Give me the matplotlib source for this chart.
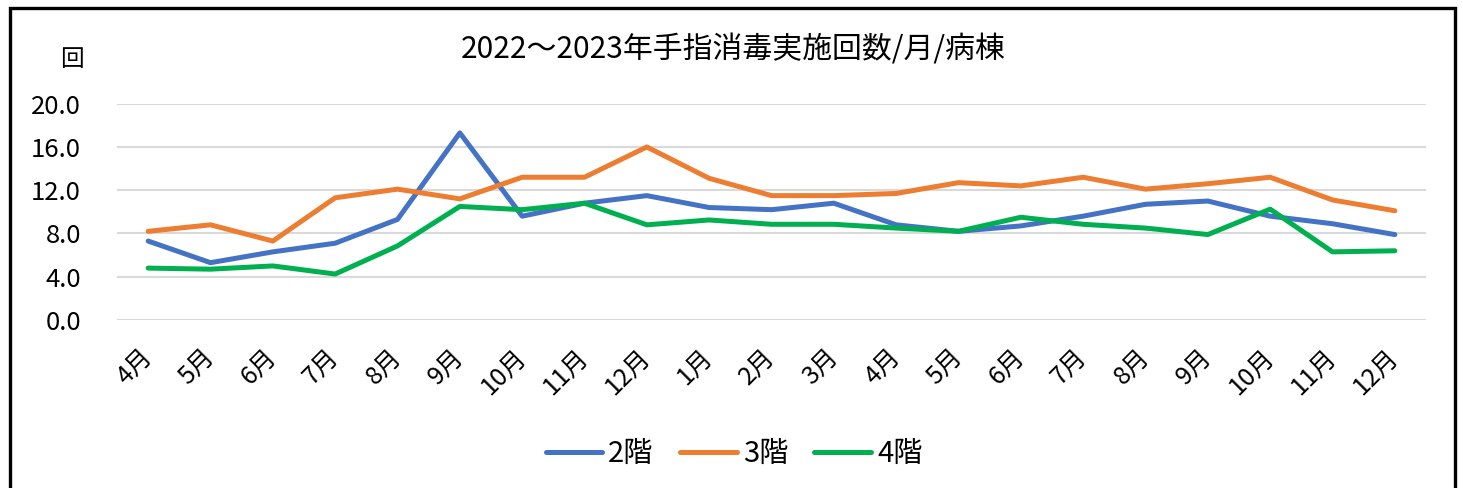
import matplotlib

matplotlib.use("Agg")
from matplotlib import pyplot as plt
from matplotlib.patches import Rectangle

plt.rcParams["font.family"] = ["Noto Sans CJK JP", "DejaVu Sans"]

# ---------- データ ----------
months = ["4月", "5月", "6月", "7月", "8月", "9月", "10月", "11月", "12月",
          "1月", "2月", "3月", "4月", "5月", "6月", "7月", "8月", "9月",
          "10月", "11月", "12月"]
floor2 = [7.3, 5.3, 6.3, 7.1, 9.3, 17.3, 9.6, 10.8, 11.5,
          10.4, 10.2, 10.8, 8.8, 8.2, 8.7, 9.6, 10.7, 11.0,
          9.6, 8.9, 7.9]
floor3 = [8.2, 8.8, 7.3, 11.3, 12.1, 11.2, 13.2, 13.2, 16.0,
          13.1, 11.5, 11.5, 11.7, 12.7, 12.4, 13.2, 12.1, 12.6,
          13.2, 11.1, 10.1]
floor4 = [4.8, 4.7, 5.0, 4.25, 6.85, 10.5, 10.2, 10.8, 8.8,
          9.25, 8.85, 8.85, 8.5, 8.2, 9.5, 8.85, 8.5, 7.9,
          10.25, 6.3, 6.4]
series = [("2階", floor2, "#4472C4"),
          ("3階", floor3, "#ED7D31"),
          ("4階", floor4, "#00B050")]
yticks = [0, 4, 8, 12, 16, 20]

W, H = 1463, 488
fig = plt.figure(figsize=(W / 100, H / 100), dpi=100)
ax = fig.add_axes([117 / W, 1 - 320 / H, 1309 / W, 216.3 / H])

x = list(range(len(months)))
for name, vals, col in series:
    ax.plot(x, vals, color=col, lw=3.6, label=name, solid_capstyle="round")

ax.set_xlim(-0.5, len(months) - 0.5)
ax.set_ylim(0, 20)
ax.set_yticks(yticks)
ax.set_yticklabels([f"{v:.1f}" for v in yticks], fontsize=18.5)
ax.set_xticks(x)
ax.set_xticklabels(months, fontsize=18, rotation=45, ha="right",
                   va="center", rotation_mode="anchor")
ax.tick_params(axis="y", length=0, pad=26)
ax.tick_params(axis="x", length=0, pad=24)
ax.grid(axis="y", color="#D9D9D9", lw=1.5)
ax.set_axisbelow(True)
for s in ax.spines.values():
    s.set_visible(False)

fig.text(733 / W, 1 - 50 / H, "2022～2023年手指消毒実施回数/月/病棟",
         ha="center", va="center", fontsize=21.5)
fig.text(72 / W, 1 - 60 / H, "回", ha="center", va="center", fontsize=17)

fig.legend(loc="center", bbox_to_anchor=(734 / W, 1 - 454 / H), ncol=3,
           frameon=False, fontsize=21, handlelength=1.95, handletextpad=0.2,
           columnspacing=0.9)

# 外枠
fig.patches.append(Rectangle((9.5 / W, -0.1), (1455 - 9.5) / W, 1.1 - 8.5 / H,
                             transform=fig.transFigure, fill=False,
                             edgecolor="black", lw=2.4))

fig.savefig("out.png", dpi=100)
